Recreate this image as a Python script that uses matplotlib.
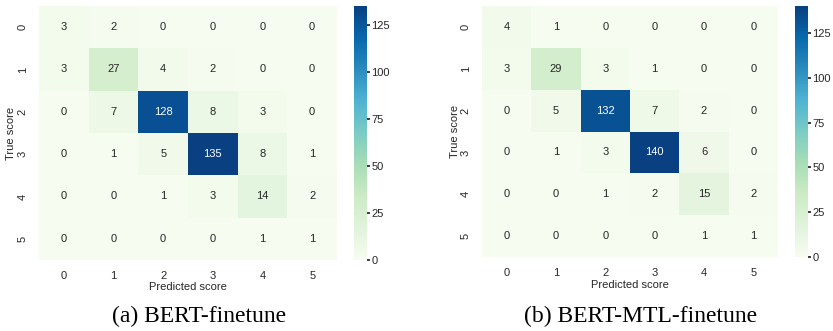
import numpy as np
import matplotlib
matplotlib.use("Agg")
import matplotlib.pyplot as plt
import seaborn as sns

# confusion matrices (rows = true score, cols = predicted score)
labels = [0, 1, 2, 3, 4, 5]
cm_bert = [[3, 2, 0, 0, 0, 0],
           [3, 27, 4, 2, 0, 0],
           [0, 7, 128, 8, 3, 0],
           [0, 1, 5, 135, 8, 1],
           [0, 0, 1, 3, 14, 2],
           [0, 0, 0, 0, 1, 1]]
cm_mtl = [[4, 1, 0, 0, 0, 0],
          [3, 29, 3, 1, 0, 0],
          [0, 5, 132, 7, 2, 0],
          [0, 1, 3, 140, 6, 0],
          [0, 0, 1, 2, 15, 2],
          [0, 0, 0, 0, 1, 1]]
cbar_ticks = [0, 25, 50, 75, 100, 125]
captions = ["(a) BERT-finetune", "(b) BERT-MTL-finetune"]

sns.set_theme()
plt.rcParams['font.family'] = ['Liberation Sans', 'DejaVu Sans']

W, H = 833, 331
fig = plt.figure(figsize=(W / 100, H / 100), dpi=100)

def box(x0, y0, x1, y1):
    return [x0 / W, 1 - y1 / H, (x1 - x0) / W, (y1 - y0) / H]

panels = [
    (cm_bert, box(39, 6, 337, 260), box(354, 6, 367, 260), 199),
    (cm_mtl, box(482, 6, 778, 257), box(795, 6, 808, 257), 641),
]

fs = 8
for (cm, axr, cbr, cx), cap in zip(panels, captions):
    ax = fig.add_axes(axr)
    cax = fig.add_axes(cbr)
    sns.heatmap(np.array(cm), annot=True, fmt='d', cmap='GnBu', ax=ax, cbar_ax=cax,
                xticklabels=labels, yticklabels=labels,
                cbar_kws={'ticks': cbar_ticks},
                annot_kws={'size': fs})
    ax.set_xlabel('Predicted score', fontsize=fs, labelpad=1)
    ax.set_ylabel('True score', fontsize=fs, labelpad=1)
    ax.tick_params(labelsize=fs, pad=2)
    cax.tick_params(labelsize=fs, length=2, pad=1)
    fig.text(cx / W, 1 - 316 / H, cap, ha='center', va='center',
             family='Liberation Serif', fontsize=17, color='black')

fig.savefig('out.png', dpi=100)
